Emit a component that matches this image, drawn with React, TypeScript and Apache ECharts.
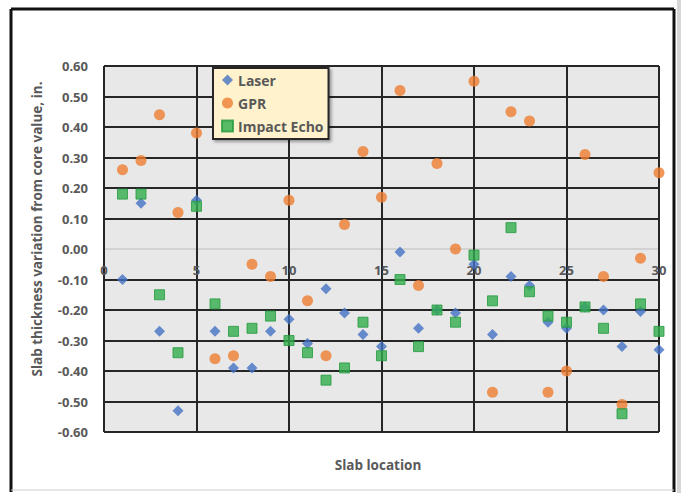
import React, { useEffect, useRef } from "react";
import * as echarts from "echarts";

const locations = Array.from({ length: 30 }, (_, i) => i + 1);
const laser = [-0.10, 0.15, -0.27, -0.53, 0.16, -0.27, -0.39, -0.39, -0.27, -0.23, -0.31, -0.13, -0.21, -0.28, -0.32, -0.01, -0.26, -0.20, -0.21, -0.05, -0.28, -0.09, -0.12, -0.24, -0.26, -0.19, -0.20, -0.32, -0.205, -0.33];
const gpr = [0.26, 0.29, 0.44, 0.12, 0.38, -0.36, -0.35, -0.05, -0.09, 0.16, -0.17, -0.35, 0.08, 0.32, 0.17, 0.52, -0.12, 0.28, 0.00, 0.55, -0.47, 0.45, 0.42, -0.47, -0.40, 0.31, -0.09, -0.51, -0.03, 0.25];
const impactEcho = [0.18, 0.18, -0.15, -0.34, 0.14, -0.18, -0.27, -0.26, -0.22, -0.30, -0.34, -0.43, -0.39, -0.24, -0.35, -0.10, -0.32, -0.20, -0.24, -0.02, -0.17, 0.07, -0.14, -0.22, -0.24, -0.19, -0.26, -0.54, -0.18, -0.27];

const seriesNames = ["Laser", "GPR", "Impact Echo"];
const xTitle = "Slab location";
const yTitle = "Slab thickness variation from core value, in.";

const FONT = "'Open Sans', 'Noto Sans', sans-serif";
const TEXT = "#595959";
const GRID = "#262626";

export default function App() {
  const ref = useRef<HTMLDivElement>(null);
  useEffect(() => {
    if (!ref.current) return;
    const chart = echarts.init(ref.current, undefined, { renderer: "svg" });
    const pair = (arr: number[]) => arr.map((v, i) => [locations[i], v]);
    const yLineColors = Array.from({ length: 13 }, (_, i) => (i === 6 ? "#d2d2d2" : GRID));
    chart.setOption({
      animation: false,
      backgroundColor: "#ffffff",
      textStyle: { fontFamily: FONT },
      grid: {
        left: 104,
        right: 22,
        top: 66,
        bottom: 61,
        show: true,
        backgroundColor: "#e8e8e8",
        borderWidth: 0,
      },
      xAxis: {
        type: "value",
        min: 0,
        max: 30,
        interval: 5,
        offset: -183,
        axisLine: { show: false, onZero: false },
        axisTick: { show: false },
        axisLabel: { color: TEXT, fontWeight: "bold", fontSize: 13, margin: 14, fontFamily: FONT },
        splitLine: { show: true, lineStyle: { color: GRID, width: 2 } },
      },
      yAxis: {
        type: "value",
        min: -0.6,
        max: 0.6,
        interval: 0.1,
        axisLine: { show: false },
        axisTick: { show: false },
        axisLabel: {
          color: TEXT,
          fontWeight: "bold",
          fontSize: 13,
          margin: 16,
          fontFamily: FONT,
          formatter: (v: number) => v.toFixed(2),
        },
        splitLine: { show: true, lineStyle: { color: yLineColors, width: 2 } },
      },
      legend: {
        data: seriesNames,
        orient: "vertical",
        left: 213,
        top: 68,
        itemWidth: 11,
        itemHeight: 11,
        itemGap: 9,
        padding: [5, 5, 6, 8],
        backgroundColor: "#fff2cc",
        borderColor: GRID,
        borderWidth: 2,
        shadowColor: "rgba(0,0,0,0.35)",
        shadowBlur: 3,
        shadowOffsetX: 2,
        shadowOffsetY: 2,
        textStyle: { color: TEXT, fontWeight: "bold", fontSize: 14, fontFamily: FONT },
      },
      graphic: [
        { type: "line", shape: { x1: 11, y1: 9, x2: 674, y2: 9 }, style: { stroke: "#111", lineWidth: 3 } },
        { type: "line", shape: { x1: 11, y1: 9, x2: 11, y2: 492 }, style: { stroke: "#111", lineWidth: 3 } },
        { type: "line", shape: { x1: 674, y1: 9, x2: 674, y2: 492 }, style: { stroke: "#111", lineWidth: 3 } },
        { type: "line", shape: { x1: 11, y1: 490, x2: 674, y2: 490 }, style: { stroke: "#cccccc", lineWidth: 1 } },
        { type: "rect", shape: { x: 677, y: 0, width: 4, height: 493 }, style: { fill: "#d6d6d6" } },
        {
          type: "text",
          x: 37,
          y: 229,
          rotation: Math.PI / 2,
          style: {
            text: yTitle,
            fill: TEXT,
            font: `bold 13.5px ${FONT}`,
            textAlign: "center",
            textVerticalAlign: "middle",
          },
        },
        {
          type: "text",
          x: 378,
          y: 465,
          style: {
            text: xTitle,
            fill: TEXT,
            font: `bold 13.5px ${FONT}`,
            textAlign: "center",
            textVerticalAlign: "middle",
          },
        },
      ],
      series: [
        {
          name: seriesNames[0],
          type: "scatter",
          symbol: "diamond",
          symbolSize: 11,
          itemStyle: { color: "#4472c4" },
          data: pair(laser),
          z: 3,
        },
        {
          name: seriesNames[1],
          type: "scatter",
          symbol: "circle",
          symbolSize: 11,
          itemStyle: { color: "#ed7d31" },
          data: pair(gpr),
          z: 4,
        },
        {
          name: seriesNames[2],
          type: "scatter",
          symbol: "rect",
          symbolSize: 10,
          itemStyle: { color: "#31ad4c", borderColor: "#259a40", borderWidth: 1 },
          data: pair(impactEcho),
          z: 5,
        },
      ],
    });
    return () => chart.dispose();
  }, []);
  return (
    <div
      ref={ref}
      style={{ position: "fixed", left: 0, top: 0, width: 681, height: 493, background: "#fff" }}
    />
  );
}
